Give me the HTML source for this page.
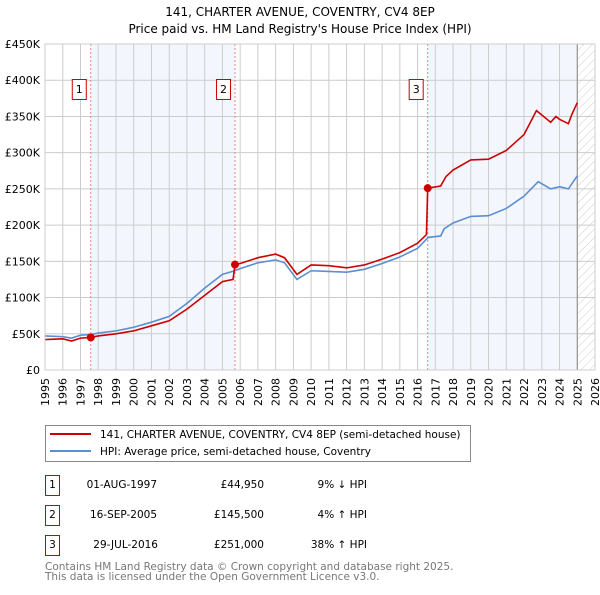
<!DOCTYPE html>
<html><head><meta charset="utf-8"><style>
body{margin:0;background:#fff;font-family:"Liberation Sans","DejaVu Sans",sans-serif}
svg text{font-family:"DejaVu Sans","Liberation Sans",sans-serif}
</style></head><body>
<svg id="c" width="600" height="590" xmlns="http://www.w3.org/2000/svg">
<defs><pattern id="hatch" width="6" height="6" patternUnits="userSpaceOnUse" patternTransform="rotate(45)"><line x1="0" y1="0" x2="0" y2="6" stroke="#ccc" stroke-width="1"/></pattern></defs>
<text x="300" y="16" text-anchor="middle" font-size="12">141, CHARTER AVENUE, COVENTRY, CV4 8EP</text>
<text x="300" y="33" text-anchor="middle" font-size="12">Price paid vs. HM Land Registry's House Price Index (HPI)</text>
<g id="plot"></g>
<g>
<rect x="45.5" y="425.5" width="425" height="36" fill="#fff" stroke="#888"/>
<line x1="50" y1="434" x2="91" y2="434" stroke="#cc0000" stroke-width="2"/>
<text x="100" y="438" font-size="10.5">141, CHARTER AVENUE, COVENTRY, CV4 8EP (semi-detached house)</text>
<line x1="50" y1="451" x2="91" y2="451" stroke="#5b8fd0" stroke-width="2"/>
<text x="100" y="455" font-size="10.5">HPI: Average price, semi-detached house, Coventry</text>
</g>
<g font-size="10.5">
<rect x="45.5" y="475.5" width="14" height="20" fill="#fff" stroke="#cc0000"/><text x="52.5" y="488" text-anchor="middle">1</text>
<text x="157" y="488" text-anchor="end">01-AUG-1997</text><text x="264" y="488" text-anchor="end">£44,950</text><text x="367" y="488" text-anchor="end">9% ↓ HPI</text>
<rect x="45.5" y="505.5" width="14" height="20" fill="#fff" stroke="#cc0000"/><text x="52.5" y="518" text-anchor="middle">2</text>
<text x="157" y="518" text-anchor="end">16-SEP-2005</text><text x="264" y="518" text-anchor="end">£145,500</text><text x="367" y="518" text-anchor="end">4% ↑ HPI</text>
<rect x="45.5" y="535.5" width="14" height="20" fill="#fff" stroke="#cc0000"/><text x="52.5" y="548" text-anchor="middle">3</text>
<text x="158" y="548" text-anchor="end">29-JUL-2016</text><text x="264" y="548" text-anchor="end">£251,000</text><text x="367" y="548" text-anchor="end">38% ↑ HPI</text>
</g>
<text x="45" y="570" font-size="10.5" fill="#777">Contains HM Land Registry data © Crown copyright and database right 2025.</text>
<text x="45" y="580" font-size="10.5" fill="#777">This data is licensed under the Open Government Licence v3.0.</text>
</svg>
<script>
const hpiYears=[1995,1996,1996.5,1997,1997.6,1998,1999,2000,2001,2002,2003,2004,2005,2005.7,2006,2007,2008,2008.5,2009.2,2010,2011,2012,2013,2014,2015,2016,2016.6,2017.3,2017.5,2018,2019,2020,2021,2022,2022.8,2023.5,2024,2024.5,2025];
const hpiValues=[47,46,44,48,49,51,54,59,66,74,92,113,132,137,140,148,152,148,125,137,136,135,139,147,156,168,183,185,195,203,212,213,223,240,260,250,253,250,268];
const propYears=[1995,1996,1996.5,1997,1997.58,1998,1999,2000,2001,2002,2003,2004,2005,2005.6,2005.71,2006,2007,2008,2008.5,2009.2,2010,2011,2012,2013,2014,2015,2016,2016.5,2016.57,2017.3,2017.6,2018,2019,2020,2021,2022,2022.7,2023.2,2023.5,2023.8,2024,2024.5,2024.7,2025];
const propValues=[42,43,40,44,44.95,47,50,54,61,68,84,103,122,125,145.5,147,155,160,155,132,145,144,141,145,153,162,175,187,251,254,267,276,290,291,303,325,358,348,342,350,346,340,353,369];
const saleLabels=["1","2","3"];
const saleYears=[1997.58,2005.71,2016.57];
const saleValues=[44.95,145.5,251];
const yTicks=[0,50,100,150,200,250,300,350,400,450];
const yTickLabels=["£0","£50K","£100K","£150K","£200K","£250K","£300K","£350K","£400K","£450K"];
const xTicks=[1995,1996,1997,1998,1999,2000,2001,2002,2003,2004,2005,2006,2007,2008,2009,2010,2011,2012,2013,2014,2015,2016,2017,2018,2019,2020,2021,2022,2023,2024,2025,2026];
const X0=45,X1=595,Y0=370,Y1=44;
const x=y=>X0+(y-1995)/(2026-1995)*(X1-X0);
const yv=v=>Y0-v/450*(Y0-Y1);
const NS="http://www.w3.org/2000/svg";
const g=document.getElementById('plot');
function mk(t,a){const e=document.createElementNS(NS,t);for(const k in a)e.setAttribute(k,a[k]);g.appendChild(e);return e;}
let e;
e=mk('rect',{x:x(saleYears[0]),y:Y1,width:x(saleYears[1])-x(saleYears[0]),height:Y0-Y1,fill:'#f3f6fd'});


e=mk('rect',{x:x(saleYears[2]),y:Y1,width:x(2025)-x(saleYears[2]),height:Y0-Y1,fill:'#f3f6fd'});


e=mk('rect',{x:x(2025),y:Y1,width:X1-x(2025),height:Y0-Y1,fill:'url(#hatch)'});


xTicks.forEach(t=>{
 e=mk('line',{x1:x(t),x2:x(t),y1:Y1,y2:Y0,stroke:'#ccc','stroke-width':1});
 
 
 e=mk('text',{x:0,y:0,'font-size':11,'text-anchor':'end',transform:`translate(${x(t)+4},${Y0+8}) rotate(-90)`});
 e.textContent=t;
 
 
});
yTicks.forEach((t,i)=>{
 e=mk('line',{x1:X0,x2:X1,y1:yv(t),y2:yv(t),stroke:'#ccc','stroke-width':1});
 
 
 e=mk('text',{x:X0-5,y:yv(t)+4,'font-size':11,'text-anchor':'end'});
 e.textContent=yTickLabels[i];
 
 
});
e=mk('line',{x1:x(2025),x2:x(2025),y1:Y1,y2:Y0,stroke:'#888','stroke-width':1});


saleYears.forEach((s,i)=>{
 e=mk('line',{x1:x(s),x2:x(s),y1:Y1,y2:Y0,stroke:'#f08080','stroke-width':1,'stroke-dasharray':'2,2'});
 
 
 e=mk('rect',{x:x(s)-18.5,y:Y1+35.5,width:14,height:20,fill:'#fff',stroke:'#cc0000'});
 
 
 e=mk('text',{x:x(s)-11.5,y:Y1+49,'font-size':11,'text-anchor':'middle'});
 e.textContent=saleLabels[i];
 
 
});
e=mk('polyline',{points:hpiYears.map((t,i)=>x(t)+','+yv(hpiValues[i])).join(' '),fill:'none',stroke:'#5b8fd0','stroke-width':1.6});


e=mk('polyline',{points:propYears.map((t,i)=>x(t)+','+yv(propValues[i])).join(' '),fill:'none',stroke:'#cc0000','stroke-width':1.6});


saleYears.forEach((s,i)=>{
 e=mk('circle',{cx:x(s),cy:yv(saleValues[i]),r:4,fill:'#cc0000'});
 
 
});
e=mk('rect',{x:X0,y:Y1,width:X1-X0,height:Y0-Y1,fill:'none',stroke:'#ccc'});


</script>
</body></html>
